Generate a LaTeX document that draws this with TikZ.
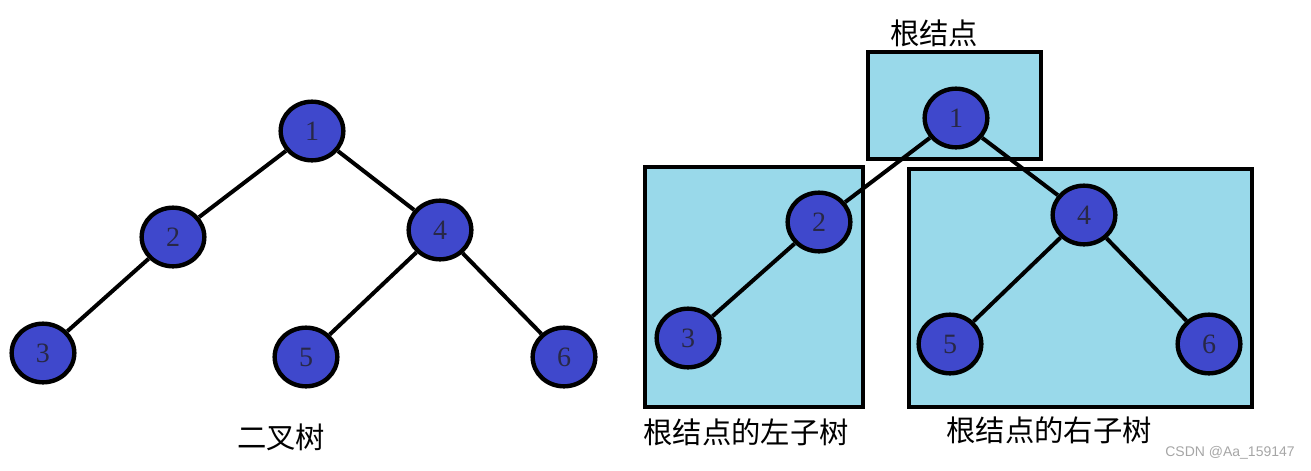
\documentclass[tikz,border=0pt]{standalone}
\usepackage{fontspec}
\setmainfont{Liberation Serif}
\newfontfamily\cjk{Noto Sans CJK SC}
\newfontfamily\wmfont{Liberation Sans}
\usetikzlibrary{shapes.geometric}
\definecolor{nodeblue}{RGB}{63,72,204}
\definecolor{boxblue}{RGB}{153,217,234}
\definecolor{digitcol}{RGB}{40,40,70}
\tikzset{
  tnode/.style={ellipse, draw=black, line width=3.3pt, fill=nodeblue,
    minimum width=47pt, minimum height=44pt, inner sep=0pt,
    font=\fontsize{21}{23}\selectfont, text=digitcol},
  edge/.style={line width=3pt},
  subbox/.style={draw=black, line width=3pt, fill=boxblue, inner sep=0pt},
  lab/.style={font=\cjk\fontsize{22}{26}\selectfont, inner sep=0pt},
}
\begin{document}
\begin{tikzpicture}[x=0.75pt,y=-0.75pt]
\useasboundingbox (0,0) rectangle (1311,471);
% left tree
\node[tnode] (a1) at (312,131) {1};
\node[tnode] (a2) at (173,237) {2};
\node[tnode] (a4) at (440,230) {4};
\node[tnode] (a3) at (43,353) {3};
\node[tnode] (a5) at (306,357) {5};
\node[tnode] (a6) at (564,357) {6};
\draw[edge] (a1) -- (a2);
\draw[edge] (a1) -- (a4);
\draw[edge] (a2) -- (a3);
\draw[edge] (a4) -- (a5);
\draw[edge] (a4) -- (a6);
\node[lab] (l0) at (281,437) {二叉树};
% right figure boxes
\node[subbox, minimum width=129.75pt, minimum height=80.25pt] (broot) at (954.5,105.5) {};
\node[subbox, minimum width=163.5pt, minimum height=180pt] (bleft) at (754,287) {};
\node[subbox, minimum width=257.25pt, minimum height=178.5pt] (bright) at (1080.5,288) {};
% right tree
\node[tnode] (b1) at (956,118) {1};
\node[tnode] (b2) at (819,222) {2};
\node[tnode] (b3) at (688,338) {3};
\node[tnode] (b4) at (1084,215) {4};
\node[tnode] (b5) at (950,344) {5};
\node[tnode] (b6) at (1209,344) {6};
\draw[edge] (b1) -- (b2);
\draw[edge] (b1) -- (b4);
\draw[edge] (b2) -- (b3);
\draw[edge] (b4) -- (b5);
\draw[edge] (b4) -- (b6);
\node[lab] (lr) at (934,33) {根结点};
\node[lab] (ll) at (746,432) {根结点的左子树};
\node[lab] (lrt) at (1049,430) {根结点的右子树};
\node[font=\wmfont\fontsize{10.5}{12}\selectfont, text=gray!70, inner sep=0pt] (wm) at (1230,453) {CSDN @Aa\_159147};
\end{tikzpicture}
\end{document}
